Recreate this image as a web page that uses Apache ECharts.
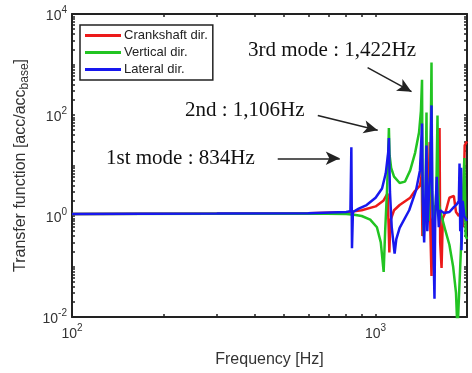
<!DOCTYPE html>
<html>
<head>
<meta charset="utf-8">
<script src="https://cdn.jsdelivr.net/npm/echarts@6/dist/echarts.min.js"></script>
<style>
  html, body { margin: 0; padding: 0; background: #fff; }
  #main { width: 472px; height: 373px; }
</style>
</head>
<body>
<div id="main"></div>
<script>
// Crankshaft direction (red)
var crankFreq = [100, 300, 600, 800, 900, 1000, 1060, 1095, 1104, 1110, 1118, 1150, 1200, 1300, 1340, 1400, 1415, 1418, 1426, 1445, 1480, 1500, 1507, 1515, 1528, 1540, 1570, 1600, 1618, 1624, 1632, 1649, 1665, 1700, 1750, 1810, 1840, 1880, 1920, 1940, 1955, 1965, 2000]
var crankAcc = [1.1, 1.12, 1.14, 1.18, 1.3, 1.55, 2.0, 2.8, 0.6, 0.19, 0.8, 1.3, 1.65, 2.3, 3.0, 4.0, 6, 14, 0.4, 1.5, 3, 7, 29, 0.5, 0.065, 0.8, 1.6, 1.3, 6, 55, 0.3, 0.094, 0.9, 1.2, 2.3, 2.5, 1.2, 1.0, 1.3, 0.6, 5, 25, 30]
// Vertical direction (green)
var vertFreq = [100, 300, 600, 800, 850, 900, 960, 1010, 1040, 1063, 1075, 1090, 1100, 1106, 1112, 1125, 1150, 1200, 1250, 1300, 1350, 1390, 1410, 1422, 1428, 1440, 1460, 1471, 1478, 1495, 1515, 1528, 1535, 1560, 1585, 1599, 1608, 1620, 1649, 1700, 1750, 1800, 1840, 1861, 1872, 1930, 1960, 1980, 2000]
var vertAcc = [1.1, 1.11, 1.12, 1.1, 1.06, 1.0, 0.85, 0.6, 0.3, 0.078, 0.5, 3, 15, 55, 16, 9, 6, 4.5, 4.8, 8, 18, 45, 120, 500, 3, 0.4, 2, 112, 1.5, 0.8, 10, 1100, 3, 0.5, 3, 98, 3, 1.6, 1.0, 0.5, 0.27, 0.1, 0.03, 0.005, 0.005, 1, 14, 0.4, 0.35]
// Lateral direction (blue)
var latFreq = [100, 300, 600, 800, 826, 832, 836, 842, 880, 934, 1000, 1050, 1080, 1100, 1106, 1115, 1130, 1155, 1170, 1200, 1290, 1360, 1400, 1422, 1430, 1445, 1460, 1471, 1480, 1500, 1515, 1528, 1540, 1555, 1563, 1572, 1590, 1600, 1615, 1630, 1680, 1750, 1810, 1850, 1880, 1890, 1900, 1912, 1918, 1935, 1960, 2000]
var latAcc = [1.1, 1.12, 1.14, 1.2, 1.25, 23, 0.23, 1.2, 1.4, 1.65, 2.3, 3.5, 7, 18, 35, 3, 0.6, 0.18, 0.35, 0.58, 1.3, 3.3, 8, 68, 2, 0.3, 3, 25, 0.5, 3, 8, 155, 1, 0.1, 0.023, 1, 6, 2, 0.6, 1.3, 1.15, 1.2, 1.5, 1.7, 2, 11, 0.5, 9, 0.21, 2, 1, 0.8]

var seriesNames = ['Crankshaft dir.', 'Vertical dir.', 'Lateral dir.']
var seriesColors = ['#ec1a1a', '#22c422', '#1818ee']

// tick positions (decades and their 2..9 subdivisions)
var xTicks = []
for (var e = 2; e <= 3; e++) {
  for (var m = 1; m <= 9; m++) {
    var v = m * Math.pow(10, e)
    if (v <= 2000) xTicks.push(v)
  }
}
var yTicks = []
for (var ey = -2; ey <= 3; ey++) {
  for (var my = 1; my <= 9; my++) {
    yTicks.push(my * Math.pow(10, ey))
  }
}
yTicks.push(10000)
var xLabelVals = [100, 1000]
var yLabelVals = [0.01, 1, 100, 10000]

function zip(fs, vs) {
  var out = []
  for (var i = 0; i < fs.length; i++) out.push([fs[i], vs[i]])
  return out
}

function powLabel(val) {
  var p = Math.round(Math.log(val) / Math.LN10)
  return '{b|10}{s|' + p + '}'
}

var labelRich = {
  b: { fontSize: 14, fontFamily: 'Liberation Sans', color: '#333', lineHeight: 18, verticalAlign: 'bottom' },
  s: { fontSize: 10, fontFamily: 'Liberation Sans', color: '#333', lineHeight: 18, verticalAlign: 'top', padding: [0, 0, 6, 0] }
}

var axisLineStyle = { color: '#222', width: 2 }
var annotFont = '21px "Liberation Serif"'

var chart = echarts.init(document.getElementById('main'))
var option = {
  animation: false,
  backgroundColor: '#fff',
  grid: { left: 72, right: 5, top: 14, bottom: 55 },
  legend: {
    data: seriesNames,
    orient: 'vertical',
    left: 80,
    top: 25,
    selectedMode: false,
    backgroundColor: '#fff',
    borderColor: '#222',
    borderWidth: 1.5,
    padding: [4, 5, 4, 5],
    itemGap: 4,
    itemWidth: 36,
    itemHeight: 3,
    icon: 'rect',
    textStyle: { fontSize: 13, fontFamily: 'Liberation Sans', color: '#222', padding: [0, 0, 0, -2] }
  },
  xAxis: [
    {
      type: 'log',
      logBase: 10,
      min: 100,
      max: 2000,
      position: 'bottom',
      name: 'Frequency [Hz]',
      nameLocation: 'middle',
      nameGap: 35,
      nameTextStyle: { fontSize: 16, fontFamily: 'Liberation Sans', color: '#333' },
      axisLine: { lineStyle: axisLineStyle },
      axisTick: { inside: true, length: 3, customValues: xTicks, lineStyle: { color: '#222', width: 1.5 } },
      axisLabel: { customValues: xLabelVals, formatter: powLabel, rich: labelRich, margin: 6 },
      splitLine: { show: false }
    },
    {
      type: 'log',
      logBase: 10,
      min: 100,
      max: 2000,
      position: 'top',
      axisLine: { lineStyle: axisLineStyle },
      axisTick: { inside: true, length: 3, customValues: xTicks, lineStyle: { color: '#222', width: 1.5 } },
      axisLabel: { show: false },
      splitLine: { show: false }
    }
  ],
  yAxis: [
    {
      type: 'log',
      logBase: 10,
      min: 0.01,
      max: 10000,
      position: 'left',
      name: 'Transfer function [acc/acc{sub|base}]',
      nameLocation: 'middle',
      nameGap: 41,
      nameTextStyle: {
        fontSize: 16, fontFamily: 'Liberation Sans', color: '#333',
        rich: {
          sub: { fontSize: 12, fontFamily: 'Liberation Sans', color: '#333', padding: [9, 0, 0, 0] }
        }
      },
      axisLine: { lineStyle: axisLineStyle },
      axisTick: { inside: true, length: 3, customValues: yTicks, lineStyle: { color: '#222', width: 1.5 } },
      axisLabel: { customValues: yLabelVals, formatter: powLabel, rich: labelRich, margin: 5 },
      splitLine: { show: false }
    },
    {
      type: 'log',
      logBase: 10,
      min: 0.01,
      max: 10000,
      position: 'right',
      axisLine: { lineStyle: axisLineStyle },
      axisTick: { inside: true, length: 3, customValues: yTicks, lineStyle: { color: '#222', width: 1.5 } },
      axisLabel: { show: false },
      splitLine: { show: false }
    }
  ],
  series: [
    {
      name: seriesNames[0],
      type: 'line',
      data: zip(crankFreq, crankAcc),
      showSymbol: false,
      color: seriesColors[0],
      lineStyle: { width: 2.5 }
    },
    {
      name: seriesNames[1],
      type: 'line',
      data: zip(vertFreq, vertAcc),
      showSymbol: false,
      color: seriesColors[1],
      lineStyle: { width: 2.5 }
    },
    {
      name: seriesNames[2],
      type: 'line',
      data: zip(latFreq, latAcc),
      showSymbol: false,
      color: seriesColors[2],
      lineStyle: { width: 2.5 },
      // annotation arrows
      markLine: {
        silent: true,
        symbol: ['none', 'arrow'],
        symbolSize: [10, 14],
        label: { show: false },
        lineStyle: { color: '#222', width: 1.5, type: 'solid' },
        data: [
          [{ coord: [476, 13.9] }, { coord: [762, 13.9] }],
          [{ coord: [645, 98] }, { coord: [1016, 50] }],
          [{ coord: [941, 870] }, { coord: [1313, 290] }]
        ]
      }
    }
  ],
  graphic: [
    { type: 'text', left: 106, top: 148, style: { text: '1st mode : 834Hz', font: annotFont, fill: '#111' } },
    { type: 'text', left: 185, top: 100, style: { text: '2nd : 1,106Hz', font: annotFont, fill: '#111' } },
    { type: 'text', left: 248, top: 40, style: { text: '3rd mode : 1,422Hz', font: annotFont, fill: '#111' } }
  ]
}
chart.setOption(option)
</script>
</body>
</html>
